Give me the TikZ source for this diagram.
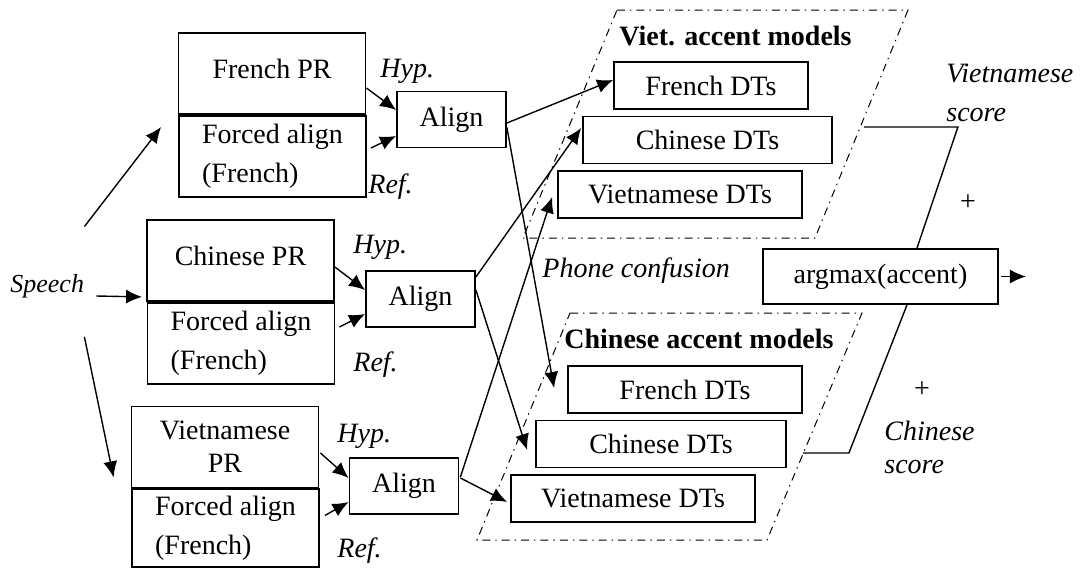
\documentclass[tikz,border=0pt]{standalone}
\usepackage{fontspec}
\setmainfont{Liberation Serif}
\usetikzlibrary{arrows.meta,calc}

\begin{document}
\begin{tikzpicture}[
  x=0.5pt, y=-0.5pt,
  font=\fontsize{14}{16.5}\selectfont,
  >={Latex[length=8pt,width=7pt]},
  box/.style={
    rectangle, draw, line width=0.9pt, inner sep=0pt, align=center
  },
  prbox/.style={box, minimum width=93.5pt, minimum height=40.5pt},
  fabox/.style={
    box, align=left, minimum width=93.5pt, minimum height=40.5pt,
    font=\fontsize{14}{19.5}\selectfont
  },
  alignbox/.style={box, minimum width=54.5pt, minimum height=28pt},
  dtbox/.style={box, minimum height=23.5pt},
  lbl/.style={inner sep=0pt, font=\fontsize{14}{16.5}\selectfont\itshape, anchor=base west},
  grp/.style={inner sep=0pt, font=\fontsize{14}{16.5}\selectfont\bfseries, anchor=base west},
  arrow/.style={->, line width=0.7pt},
  score/.style={line width=0.7pt},
  model/.style={line width=0.5pt, dash pattern=on 4pt off 2.5pt on 0.7pt off 2.5pt}
]
\useasboundingbox (0,0) rectangle (1082,568);

% --- phone recognizers + forced alignment ---
\node[prbox, text depth=5pt] (frpr) at (272,73.5) {French PR};
\node[fabox] (frfa) at (272.5,156.5) {Forced align\\(French)};
\node[prbox, text depth=5pt] (chpr) at (240.5,260.5) {Chinese PR};
\node[fabox] (chfa) at (241,343.5) {Forced align\\(French)};
\node[prbox] (vnpr) at (225,447) {Vietnamese\\PR};
\node[fabox, minimum height=39pt] (vnfa) at (225.5,528) {Forced align\\(French)};

% --- align ---
\node[alignbox] (al1) at (451.5,119.5) {Align};
\node[alignbox] (al2) at (420.5,299) {Align};
\node[alignbox] (al3) at (404,486) {Align};

% --- accent models ---
\draw[model] (617,10) -- (908,10) -- (815,238) -- (523,238) -- cycle;
\draw[model] (570,313) -- (862,313) -- (767,540) -- (477,540) -- cycle;
\node[grp] (vtitle) at (619,45) {Viet. accent models};
\node[grp] (ctitle) at (564,348) {Chinese accent models};
\foreach \n/\x/\y/\w/\name in {fr/711/85.5/97/French, ch/707.5/140/124.5/Chinese,
                               vn/680/194.5/122/Vietnamese}
{
  \node[dtbox, minimum width=\w pt] (v\n) at (\x,\y) {\name\ DTs};
}
\foreach \n/\x/\y/\w/\name in {fr/685/389.5/117/French, ch/661/444/125/Chinese,
                               vn/633/498.5/122/Vietnamese}
{
  \node[dtbox, minimum width=\w pt] (c\n) at (\x,\y) {\name\ DTs};
}

% --- decision ---
\node[box, minimum width=117.5pt, minimum height=27.5pt] (argmax) at (880.5,276.5) {argmax(accent)};
\coordinate (out) at ($(argmax.east)+(27,0)$);

% --- labels ---
\foreach \n/\x/\y/\name in {h1/380/77/Hyp., r1/368/193/Ref., h2/353/253/Hyp.,
                            r2/353/371/Ref., h3/337/442/Hyp., r3/337/557/Ref.}
{
  \node[lbl] (\n) at (\x,\y) {\name};
}
\node[lbl, font=\fontsize{13}{15}\selectfont\itshape] (speech) at (10,292) {Speech};
\node[lbl] (phone) at (542,277) {Phone confusion};
\node[lbl, anchor=north west, align=left, font=\fontsize{14}{19.5}\selectfont\itshape] (vscore) at (946,64) {Vietnamese\\score};
\node[lbl, anchor=north west, align=left] (cscore) at (884,421) {Chinese\\score};
\node (plus1) at (968,203) {+};
\node (plus2) at (922,390) {+};

% --- speech to recognizers ---
\draw[arrow] ($(speech.north east)+(0,-47)$) -- ($(frfa.west)+(-17,-29.5)$);
\draw[arrow] ($(speech.base east)+(12,4)$) -- ($(chpr.south west)+(-4,-5)$);
\draw[arrow] ($(speech.south east)+(0,39)$) -- ($(vnpr.south west)+(-17,-11)$);

% --- hyp/ref into align ---
\draw[arrow] ($(frpr.east)+(0,14.5)$) -- ($(al1.west)+(0,-9.5)$);
\draw[arrow] ($(frfa.east)+(4,-8.5)$) -- ($(al1.west)+(0,16.5)$);
\draw[arrow] ($(chpr.east)+(0,6.5)$) -- ($(al2.west)+(0,-9)$);
\draw[arrow] ($(chfa.east)+(4,-16.5)$) -- ($(al2.west)+(0,15)$);
\draw[arrow] ($(vnpr.east)+(1,6)$) -- ($(al3.west)+(0,-8)$);
\draw[arrow] ($(vnfa.east)+(5,-12.5)$) -- ($(al3.west)+(0,16)$);

% --- phone confusion into the models ---
\draw[arrow] ($(al1.east)+(0,3.5)$) -- ($(vfr.west)+(0,-5.5)$);
\draw[arrow] ($(al1.east)+(0,8)$) -- ($(cfr.west)+(-13,-1.5)$);
\draw[arrow] ($(al2.east)+(0,-22)$) -- ($(vch.west)+(-1,-12)$);
\draw[arrow] ($(al2.east)+(0,-9)$) -- ($(cch.west)+(-8,6)$);
\draw[arrow] ($(al3.east)+(1,-9)$) -- ($(vvn.west)+(-5,2.5)$);
\draw[arrow] ($(al3.east)+(1,-8)$) -- ($(cvn.west)+(-3,3.5)$);

% --- scores ---
\draw[score] ($(vch.east)+(31,-13)$) -- ++(94,0) -- ($(argmax.north)+(36.5,0)$);
\draw[score] ($(cch.east)+(16,9)$) -- ++(46,0) -- ($(argmax.south)+(26.5,0)$);
\draw[arrow] ($(argmax.east)+(2,0)$) -- (out);

\end{tikzpicture}
\end{document}
